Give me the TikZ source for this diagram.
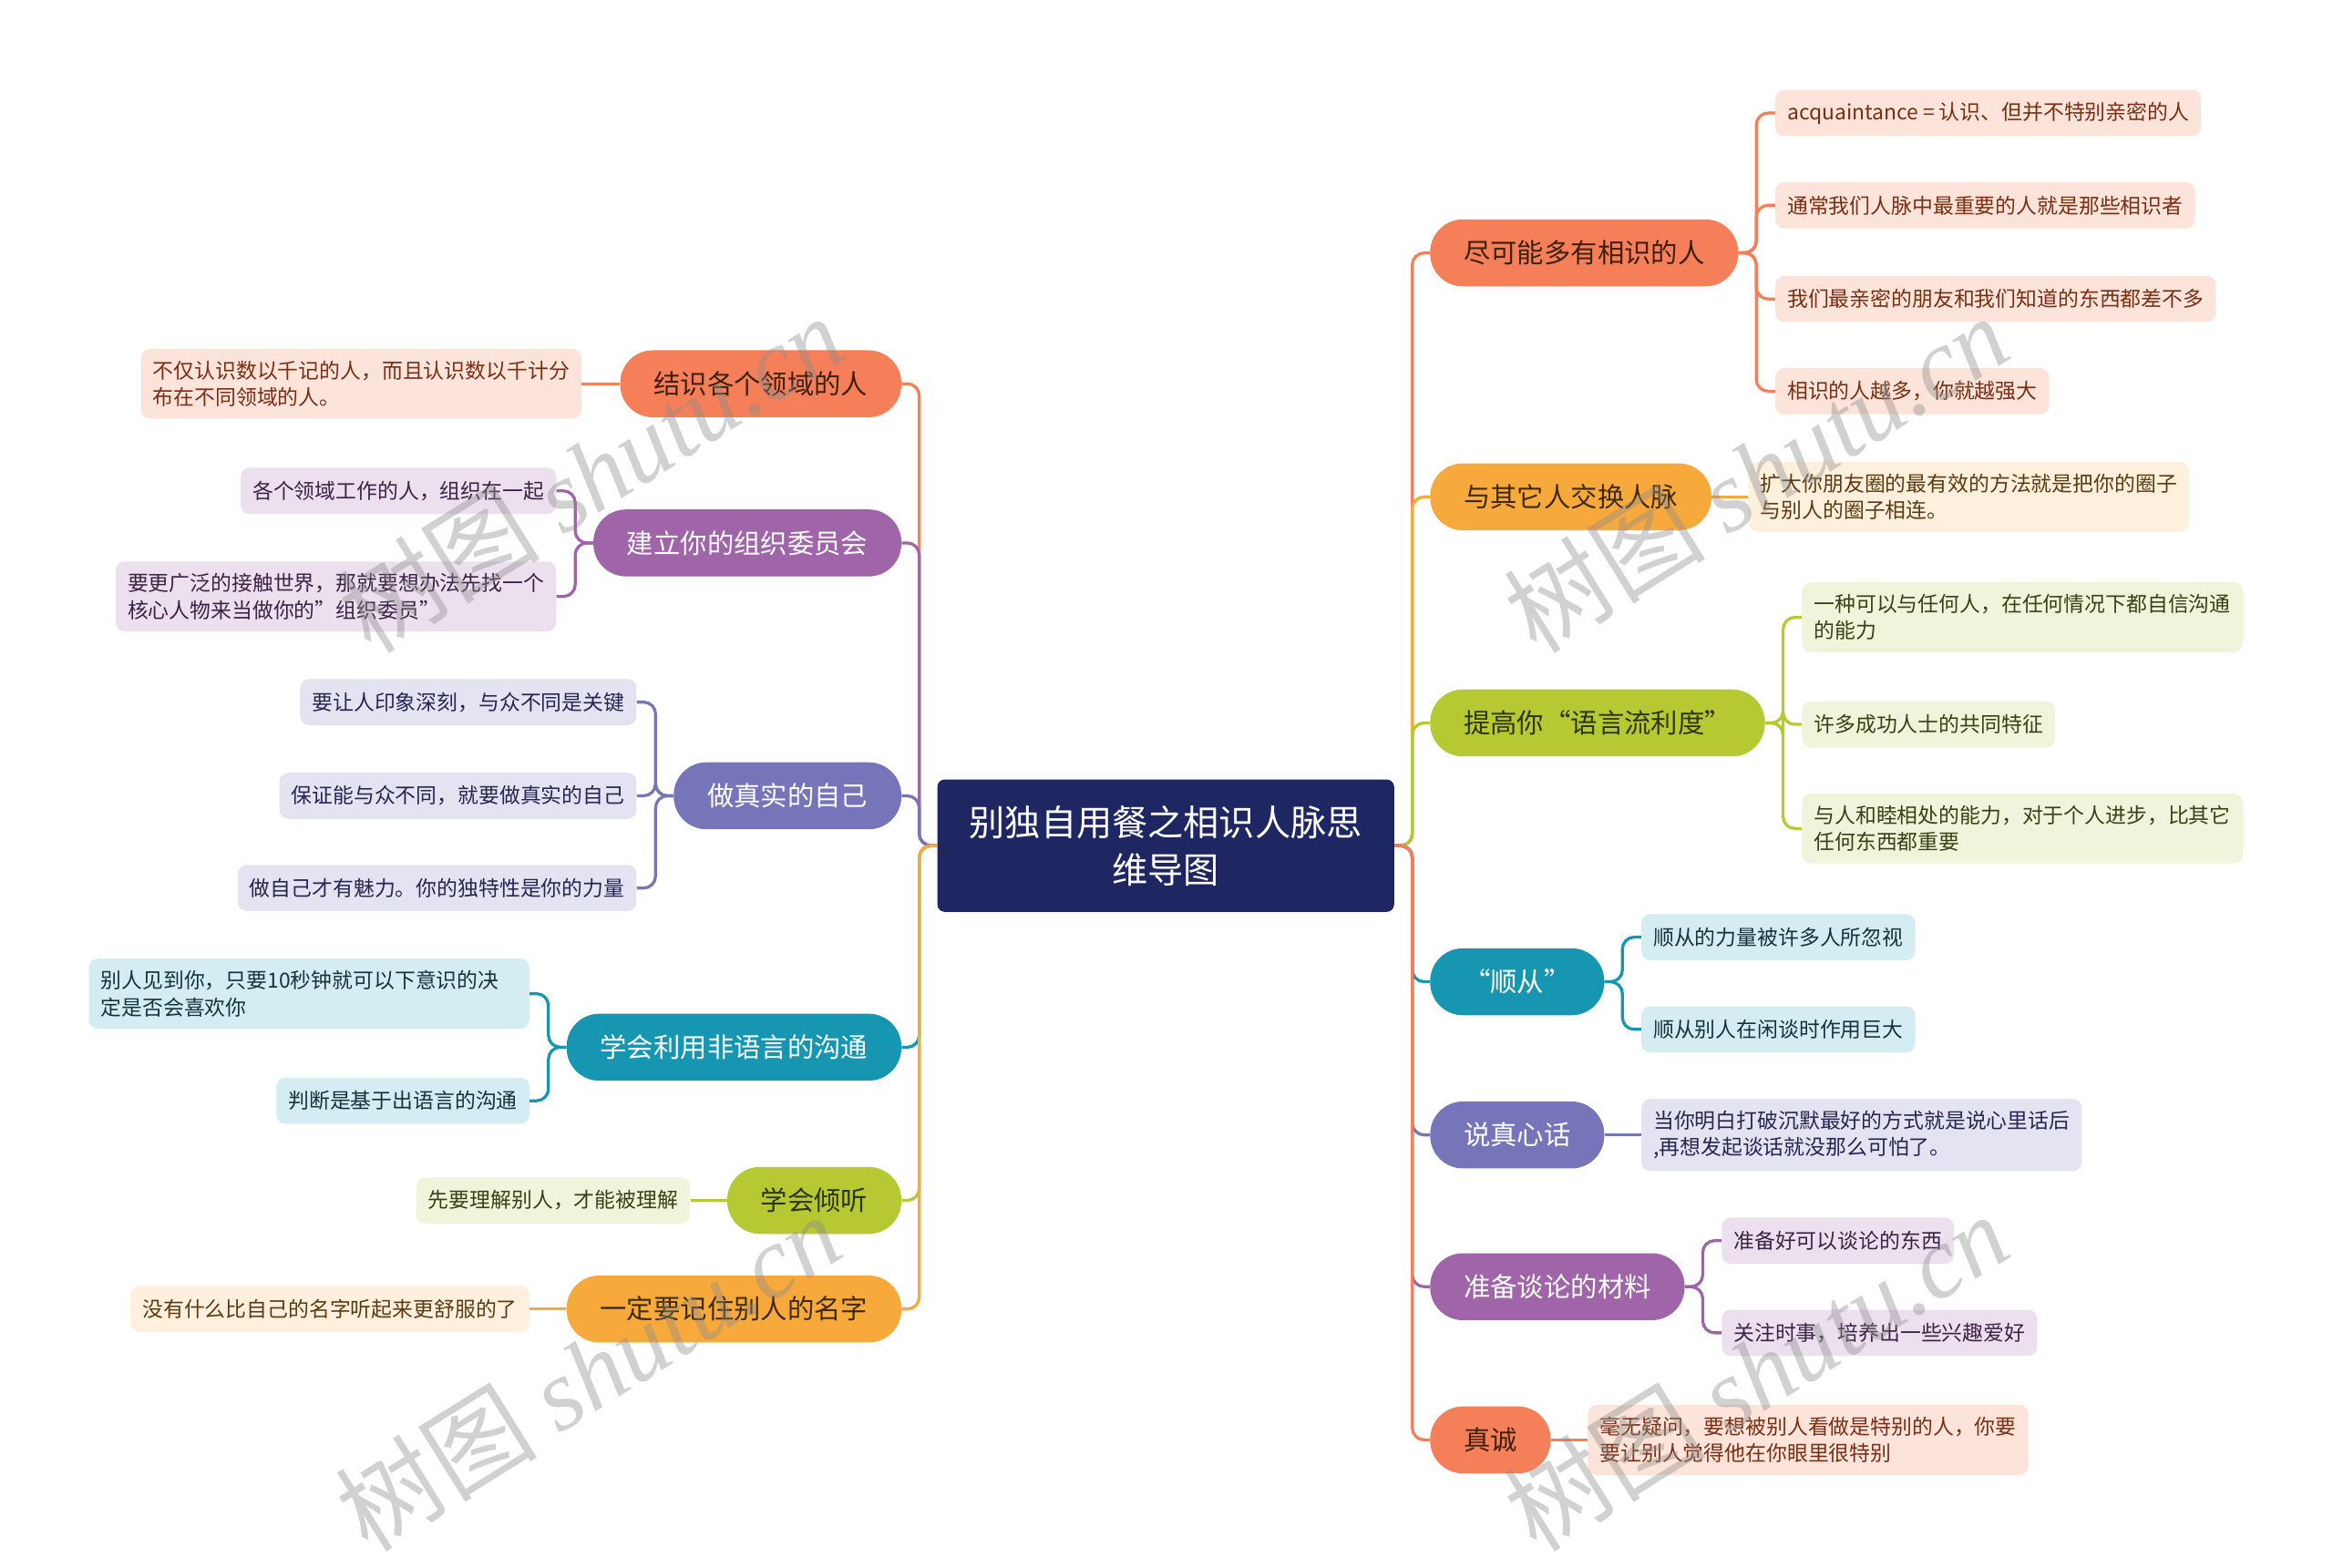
\documentclass[tikz,border=0pt]{standalone}
\usepackage{fontspec}
\setmainfont{Noto Sans CJK SC}
\newfontfamily\wmlatin{Liberation Serif}
\newfontfamily\wmcjk{Noto Sans CJK SC}
\definecolor{cCoral}{HTML}{F47F58}
\definecolor{cOrange}{HTML}{F8A93C}
\definecolor{cGreen}{HTML}{B6C932}
\definecolor{cTeal}{HTML}{1796B1}
\definecolor{cPeri}{HTML}{7675BA}
\definecolor{cPurple}{HTML}{A064A9}
\definecolor{cNavy}{HTML}{1F2762}
\definecolor{fCoral}{HTML}{FCE4DA}
\definecolor{fOrange}{HTML}{FEF0DC}
\definecolor{fGreen}{HTML}{F0F4DA}
\definecolor{fTeal}{HTML}{D3EDF3}
\definecolor{fPeri}{HTML}{E3E3F1}
\definecolor{fPurple}{HTML}{ECE0EF}
\definecolor{tCoral}{HTML}{40200F}
\definecolor{tOrange}{HTML}{3F2A0A}
\definecolor{tGreen}{HTML}{2F3510}
\definecolor{lCoral}{HTML}{7A2E12}
\definecolor{lOrange}{HTML}{5C3A12}
\definecolor{lGreen}{HTML}{3A4015}
\definecolor{lTeal}{HTML}{17323A}
\definecolor{lPeri}{HTML}{262650}
\definecolor{lPurple}{HTML}{3C2244}
\tikzset{
  mainbox/.style={rounded corners=22pt, minimum height=45pt, inner xsep=22.5pt, inner ysep=0pt, font=\fontsize{18}{22}\selectfont},
  leafbox/.style={rounded corners=6pt, minimum height=31pt, inner xsep=8pt, inner ysep=8pt, align=left, font=\fontsize{14}{18}\selectfont},
  twoline/.style={text width=280pt},
  conn/.style={line width=2pt, rounded corners=8pt},
  wmark/.style={text=black!45, opacity=0.4, rotate=32, font=\fontsize{68}{76}\selectfont},
  mCoral/.style={mainbox, fill=cCoral, text=tCoral},
  mOrange/.style={mainbox, fill=cOrange, text=tOrange},
  mGreen/.style={mainbox, fill=cGreen, text=tGreen},
  mTeal/.style={mainbox, fill=cTeal, text=white},
  mPeri/.style={mainbox, fill=cPeri, text=white},
  mPurple/.style={mainbox, fill=cPurple, text=white},
  sCoral/.style={leafbox, fill=fCoral, text=lCoral},
  sOrange/.style={leafbox, fill=fOrange, text=lOrange},
  sGreen/.style={leafbox, fill=fGreen, text=lGreen},
  sTeal/.style={leafbox, fill=fTeal, text=lTeal},
  sPeri/.style={leafbox, fill=fPeri, text=lPeri},
  sPurple/.style={leafbox, fill=fPurple, text=lPurple},
}
\begin{document}
\begin{tikzpicture}[x=1pt,y=-1pt]
\useasboundingbox (0,0) rectangle (1568,1054);
\fill[white] (0,0) rectangle (1568,1054);

% center
\node[fill=cNavy, text=white, rounded corners=5pt, minimum width=307pt, minimum height=89pt, align=center, font=\fontsize{24}{32}\selectfont] (C) at (783.5,568.5) {别独自用餐之相识人脉思\\维导图};

% right main nodes
\node[mCoral, anchor=west] (r1) at (961,170) {尽可能多有相识的人};
\node[mOrange, anchor=west] (r2) at (961,334) {与其它人交换人脉};
\node[mGreen, anchor=west] (r3) at (961,486) {提高你“语言流利度”};
\node[mTeal, anchor=west] (r4) at (961,660) {“顺从”};
\node[mPeri, anchor=west] (r5) at (961,763) {说真心话};
\node[mPurple, anchor=west] (r6) at (961,865) {准备谈论的材料};
\node[mCoral, anchor=west] (r7) at (961,968) {真诚};

% left main nodes
\node[mCoral, anchor=east] (l1) at (606,258) {结识各个领域的人};
\node[mPurple, anchor=east] (l2) at (606,365) {建立你的组织委员会};
\node[mPeri, anchor=east] (l3) at (606,535) {做真实的自己};
\node[mTeal, anchor=east] (l4) at (606,704) {学会利用非语言的沟通};
\node[mGreen, anchor=east] (l5) at (606,807) {学会倾听};
\node[mOrange, anchor=east] (l6) at (606,880) {一定要记住别人的名字};

% right leaves
\node[sCoral, anchor=west] (r1a) at (1193,76) {acquaintance = 认识、但并不特别亲密的人};
\node[sCoral, anchor=west] (r1b) at (1193,138) {通常我们人脉中最重要的人就是那些相识者};
\node[sCoral, anchor=west] (r1c) at (1193,201) {我们最亲密的朋友和我们知道的东西都差不多};
\node[sCoral, anchor=west] (r1d) at (1193,263) {相识的人越多，你就越强大};
\node[sOrange, twoline, anchor=west] (r2a) at (1175,334) {扩大你朋友圈的最有效的方法就是把你的圈子\\与别人的圈子相连。};
\node[sGreen, twoline, anchor=west] (r3a) at (1211,415) {一种可以与任何人，在任何情况下都自信沟通\\的能力};
\node[sGreen, anchor=west] (r3b) at (1211,487) {许多成功人士的共同特征};
\node[sGreen, twoline, anchor=west] (r3c) at (1211,557) {与人和睦相处的能力，对于个人进步，比其它\\任何东西都重要};
\node[sTeal, anchor=west] (r4a) at (1103,630) {顺从的力量被许多人所忽视};
\node[sTeal, anchor=west] (r4b) at (1103,692) {顺从别人在闲谈时作用巨大};
\node[sPeri, twoline, anchor=west] (r5a) at (1103,763) {当你明白打破沉默最好的方式就是说心里话后\\,再想发起谈话就没那么可怕了。};
\node[sPurple, anchor=west] (r6a) at (1157,834) {准备好可以谈论的东西};
\node[sPurple, anchor=west] (r6b) at (1157,896) {关注时事，培养出一些兴趣爱好};
\node[sCoral, twoline, anchor=west] (r7a) at (1067,968) {毫无疑问，要想被别人看做是特别的人，你要\\要让别人觉得他在你眼里很特别};

% left leaves
\node[sCoral, twoline, anchor=east] (l1a) at (391,258) {不仅认识数以千记的人，而且认识数以千计分\\布在不同领域的人。};
\node[sPurple, anchor=east] (l2a) at (374,330) {各个领域工作的人，组织在一起};
\node[sPurple, twoline, anchor=east] (l2b) at (374,401) {要更广泛的接触世界，那就要想办法先找一个\\核心人物来当做你的”组织委员”};
\node[sPeri, anchor=east] (l3a) at (428,472) {要让人印象深刻，与众不同是关键};
\node[sPeri, anchor=east] (l3b) at (428,535) {保证能与众不同，就要做真实的自己};
\node[sPeri, anchor=east] (l3c) at (428,597) {做自己才有魅力。你的独特性是你的力量};
\node[sTeal, twoline, anchor=east] (l4a) at (356,668) {别人见到你，只要10秒钟就可以下意识的决\\定是否会喜欢你};
\node[sTeal, anchor=east] (l4b) at (356,740) {判断是基于出语言的沟通};
\node[sGreen, anchor=east] (l5a) at (464,807) {先要理解别人，才能被理解};
\node[sOrange, anchor=east] (l6a) at (356,880) {没有什么比自己的名字听起来更舒服的了};

% trunk connectors right (top to bottom)
\draw[conn, cCoral] (C.east) -- ++(12,0) |- (r1.west);
\draw[conn, cOrange] (C.east) -- ++(12,0) |- (r2.west);
\draw[conn, cGreen] (C.east) -- ++(12,0) |- (r3.west);
\draw[conn, cTeal] (C.east) -- ++(12,0) |- (r4.west);
\draw[conn, cPeri] (C.east) -- ++(12,0) |- (r5.west);
\draw[conn, cPurple] (C.east) -- ++(12,0) |- (r6.west);
\draw[conn, cCoral] (C.east) -- ++(12,0) |- (r7.west);

% trunk connectors left (top to bottom)
\draw[conn, cCoral] (C.west) -- ++(-12,0) |- (l1.east);
\draw[conn, cPurple] (C.west) -- ++(-12,0) |- (l2.east);
\draw[conn, cPeri] (C.west) -- ++(-12,0) |- (l3.east);
\draw[conn, cTeal] (C.west) -- ++(-12,0) |- (l4.east);
\draw[conn, cGreen] (C.west) -- ++(-12,0) |- (l5.east);
\draw[conn, cOrange] (C.west) -- ++(-12,0) |- (l6.east);

% leaf connectors right
\foreach \n in {r1a,r1b,r1c,r1d} \draw[conn, cCoral] (r1.east) -- ++(12,0) |- (\n.west);
\draw[conn, cOrange] (r2.east) -- (r2a.west);
\foreach \n in {r3a,r3b,r3c} \draw[conn, cGreen] (r3.east) -- ++(12,0) |- (\n.west);
\foreach \n in {r4a,r4b} \draw[conn, cTeal] (r4.east) -- ++(12,0) |- (\n.west);
\draw[conn, cPeri] (r5.east) -- (r5a.west);
\foreach \n in {r6a,r6b} \draw[conn, cPurple] (r6.east) -- ++(12,0) |- (\n.west);
\draw[conn, cCoral] (r7.east) -- (r7a.west);

% leaf connectors left
\draw[conn, cCoral] (l1.west) -- (l1a.east);
\foreach \n in {l2a,l2b} \draw[conn, cPurple] (l2.west) -- ++(-12,0) |- (\n.east);
\foreach \n in {l3a,l3b,l3c} \draw[conn, cPeri] (l3.west) -- ++(-12,0) |- (\n.east);
\foreach \n in {l4a,l4b} \draw[conn, cTeal] (l4.west) -- ++(-12,0) |- (\n.east);
\draw[conn, cGreen] (l5.west) -- (l5a.east);
\draw[conn, cOrange] (l6.west) -- (l6a.east);

% watermarks
\node[wmark] (w1) at (397,318) {{\wmcjk 树图} {\wmlatin\itshape shutu.cn}};
\node[wmark] (w2) at (1180,318) {{\wmcjk 树图} {\wmlatin\itshape shutu.cn}};
\node[wmark] (w3) at (395,922) {{\wmcjk 树图} {\wmlatin\itshape shutu.cn}};
\node[wmark] (w4) at (1180,922) {{\wmcjk 树图} {\wmlatin\itshape shutu.cn}};
\end{tikzpicture}
\end{document}
